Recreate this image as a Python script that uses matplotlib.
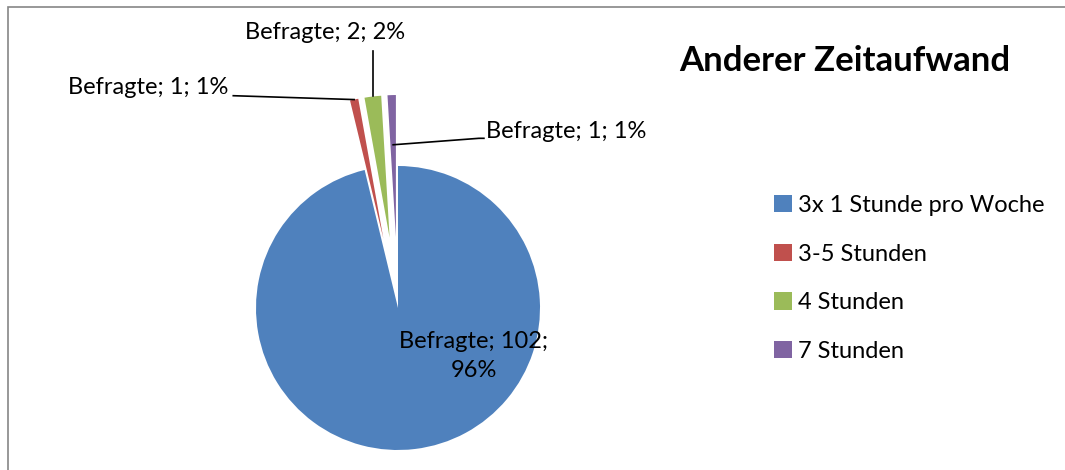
import matplotlib.pyplot as plt
import numpy as np
from matplotlib.patches import Patch, Rectangle

plt.rcParams['font.family'] = ['Lato', 'DejaVu Sans']

# data
categories = ['3x 1 Stunde pro Woche', '3-5 Stunden', '4 Stunden', '7 Stunden']
counts = [102, 1, 2, 1]
percents = ['96%', '1%', '2%', '1%']
series_name = 'Befragte'
title = 'Anderer Zeitaufwand'
colors = ['#4F81BD', '#C0504D', '#9BBB59', '#8064A2']
explode = [0.0, 0.5, 0.5, 0.5]

W, H = 1065, 470
fig = plt.figure(figsize=(W / 100, H / 100), dpi=100)

# pie axes: centre at (398, 308) px from top, radius 142 px
R = 142
cx, cy = 398, H - 308
ax = fig.add_axes([(cx - 2 * R) / W, (cy - 2 * R) / H, 4 * R / W, 4 * R / H])

wedges, _ = ax.pie(counts, colors=colors, explode=explode, startangle=90,
                   counterclock=False, radius=1,
                   wedgeprops=dict(linewidth=0))
ax.set_xlim(-2, 2)
ax.set_ylim(-2, 2)
ax.set_aspect('equal')
ax.axis('off')

def mid_dir(w):
    a = np.deg2rad((w.theta1 + w.theta2) / 2)
    return np.cos(a), np.sin(a)

fs = 17
labels = [f'{series_name}; {c}; {p}' for c, p in zip(counts, percents)]

# big slice label (inside)
ax.text(0.535, -0.34, f'{series_name}; {counts[0]};\n{percents[0]}',
        ha='center', va='center', fontsize=fs, linespacing=1.45)

# red slice label - left
dx, dy = mid_dir(wedges[1])
tip = (dx * 1.5, dy * 1.5)
ax.text(-1.195, 1.55, labels[1], ha='right', va='center', fontsize=fs)
ax.plot([-1.16, tip[0]], [1.495, tip[1]], color='black', lw=1.2)

# green slice label - top
dx, dy = mid_dir(wedges[2])
tip = (dx * 1.5, dy * 1.5)
ax.text(-0.515, 1.94, labels[2], ha='center', va='center', fontsize=fs)
ax.plot([tip[0], tip[0]], [tip[1], 1.81], color='black', lw=1.2)

# purple slice label - right
dx, dy = mid_dir(wedges[3])
tip = (dx * 1.15, dy * 1.15)
ax.text(0.62, 1.24, labels[3], ha='left', va='center', fontsize=fs)
ax.plot([tip[0], 0.57, 0.605], [tip[1], 1.195, 1.195], color='black', lw=1.2)

# title
fig.text(845 / W, 1 - 61 / H, title, ha='center', va='center',
         fontsize=25, fontweight='bold')

# legend
handles = [Patch(facecolor=c, edgecolor='none') for c in colors]
fig.legend(handles, categories, loc='upper left',
           bbox_to_anchor=(774 / W, 1 - 195 / H), frameon=False,
           fontsize=fs, handlelength=0.75, handleheight=0.75,
           handletextpad=0.25, labelspacing=1.17, borderpad=0,
           borderaxespad=0)

# chart border (top and left visible)
fig.add_artist(Rectangle((8 / W, -0.1), 1.2, 1.1 - 7 / H,
                         transform=fig.transFigure, fill=False,
                         edgecolor='#868686', linewidth=1.2))

fig.savefig('out.png', dpi=100)
